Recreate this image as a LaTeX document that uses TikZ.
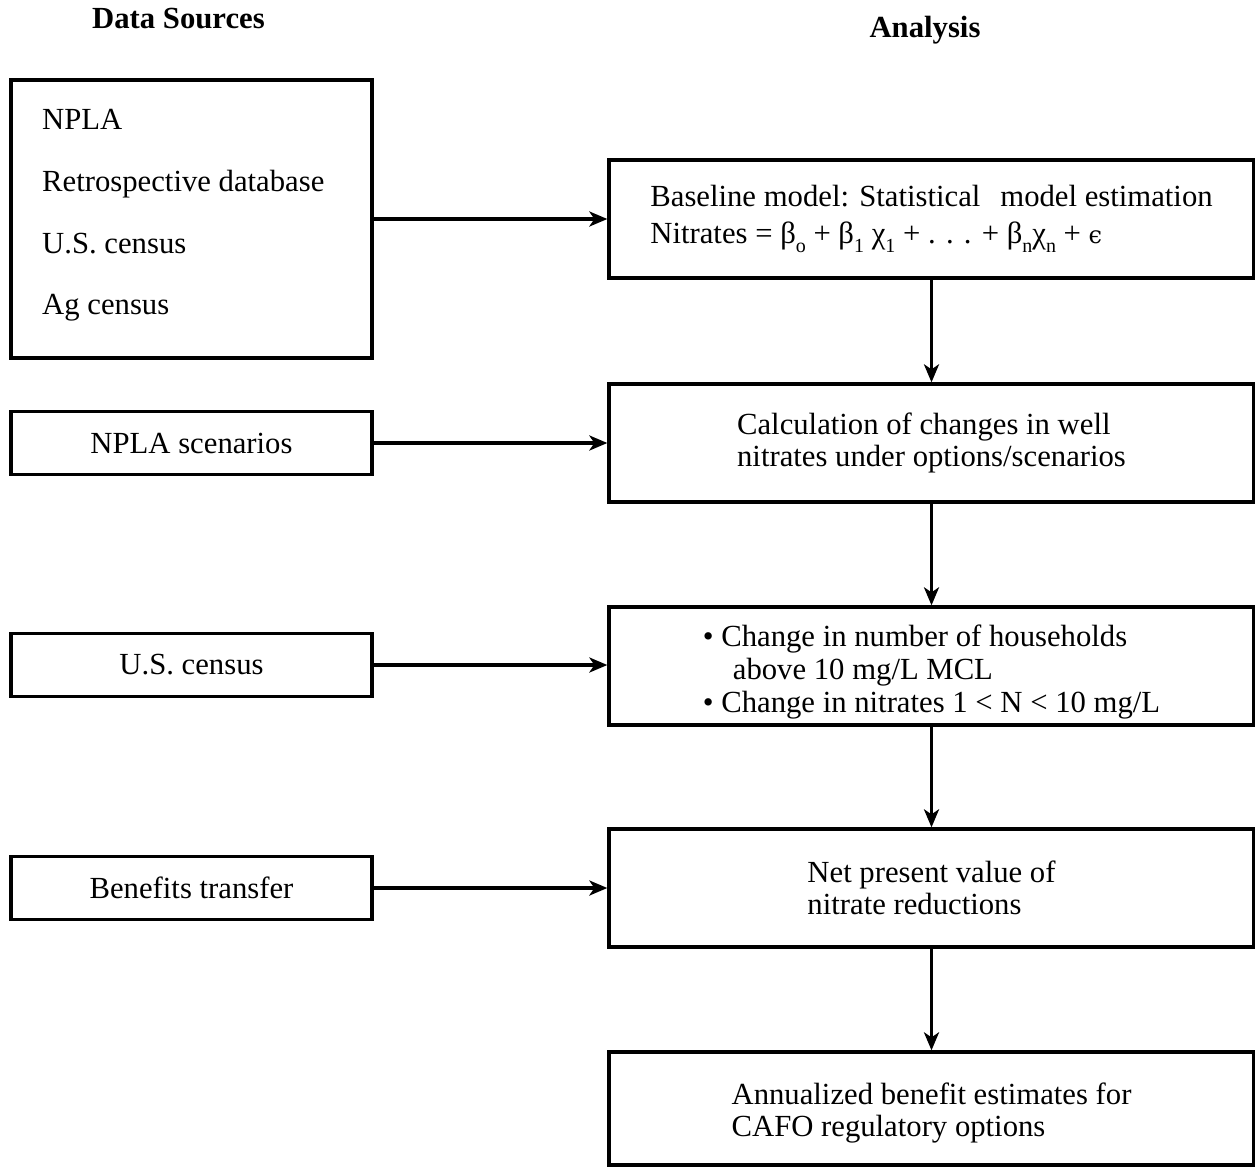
\documentclass[tikz,border=0pt]{standalone}
\usepackage{fontspec}
\setmainfont{Liberation Serif}
\newfontfamily\epsfont{DejaVu Serif}
\usetikzlibrary{arrows.meta}
\newcommand{\sbx}[1]{\raisebox{-0.28em}{\fontsize{20}{20}\selectfont #1}}
\begin{document}
\begin{tikzpicture}[x=1pt,y=-1pt,
  every node/.style={font=\fontsize{30.7}{32}\selectfont},
  srcbox/.style={draw=black, line width=3.3pt, minimum width=361pt, inner sep=0pt},
  anbox/.style={draw=black, line width=3.3pt, minimum width=645pt, minimum height=118pt, align=left, inner sep=0pt},
  plain/.style={inner sep=0pt},
  flow/.style={line width=3.3pt, -{Stealth[length=18pt,width=15pt,inset=5pt]}},
  hdr/.style={inner sep=0pt, font=\fontsize{30.7}{32}\selectfont\bfseries}
]
\useasboundingbox (0,0) rectangle (1255,1168);

% headers
\node[hdr, anchor=base] (h1) at (178.5,28) {Data Sources};
\node[hdr, anchor=base] (h2) at (925,37) {Analysis};

% data sources
\node[srcbox, minimum height=278pt] (src) at (191.5,219) {};
\node[plain, anchor=base west] (s1) at (42,129) {NPLA};
\node[plain, anchor=base west] (s2) at (42,191) {Retrospective database};
\node[plain, anchor=base west] (s3) at (42,253) {U.S. census};
\node[plain, anchor=base west] (s4) at (42,314) {Ag census};

\node[srcbox, minimum height=63pt] (npla) at (191.5,443) {NPLA scenarios};
\node[srcbox, minimum height=63pt] (usc) at (191.5,665) {U.S. census};
\node[srcbox, minimum height=63pt] (bt) at (191.5,888) {Benefits transfer};

% analysis
\node[anbox] (r1) at (931.5,219) {Baseline model: Statistical\hspace{0.4em} model estimation\\[5pt]
Nitrates = β\sbx{o} + β\sbx{1} χ\sbx{1} + . . . + β\sbx{n}χ\sbx{n} + {\epsfont\fontsize{24}{24}\selectfont ϵ}};
\node[anbox] (r2) at (931.5,443) {Calculation of changes in well\\nitrates under options/scenarios};
\node[anbox] (r3) at (931.5,666) {};
\node[plain, align=left, font=\fontsize{30.7}{33}\selectfont] (r3t) at (931.5,672) {\textbullet{} Change in number of households\\
\hspace*{30pt}above 10 mg/L MCL\\
\textbullet{} Change in nitrates 1 < N < 10 mg/L};
\node[anbox] (r4) at (931.5,888) {Net present value of\\nitrate reductions};
\node[anbox, minimum height=113pt] (r5) at (931.5,1108.5) {};
\node[plain, align=left] (r5t) at (931.5,1113) {Annualized benefit estimates for\\CAFO regulatory options};

% connectors
\draw[flow] (src.east) -- (src.east -| r1.west);
\draw[flow] (npla.east) -- (npla.east -| r2.west);
\draw[flow] (usc.east) -- (usc.east -| r3.west);
\draw[flow] (bt.east) -- (bt.east -| r4.west);
\draw[flow] (r1.south) -- (r2.north);
\draw[flow] (r2.south) -- (r3.north);
\draw[flow] (r3.south) -- (r4.north);
\draw[flow] (r4.south) -- (r5.north);
\end{tikzpicture}
\end{document}
